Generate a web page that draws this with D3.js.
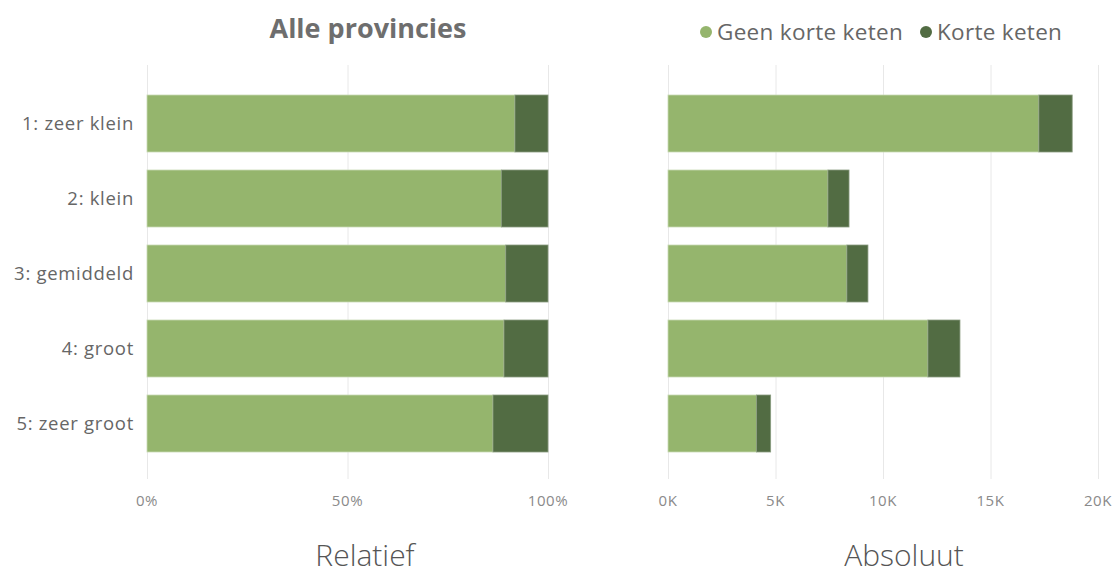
<!DOCTYPE html>
<html lang="nl">
<head>
  <meta charset="UTF-8">
  <title>Alle provincies: korte keten</title>
  <script src="https://d3js.org/d3.v7.min.js"></script>
  <style>
    body {
      margin: 0;
      background: #fff;
      font-family: "Open Sans", "Segoe UI", sans-serif;
    }
    svg { display: block; }
  </style>
</head>
<body>
  <svg id="chart" width="1117" height="575"></svg>
  <script>
    // Data
    const categories = ["1: zeer klein", "2: klein", "3: gemiddeld", "4: groot", "5: zeer groot"];
    const geenKorteKeten = [17250, 7440, 8320, 12090, 4120];
    const korteKeten = [1550, 980, 980, 1490, 655];
    const seriesNames = ["Geen korte keten", "Korte keten"];
    const relTicks = [0, 0.5, 1];
    const absTicks = [0, 5000, 10000, 15000, 20000];

    const colors = ["#95b56d", "#526c43"];

    const svg = d3.select("#chart");

    // Shared band scale for the rows
    const y = d3.scaleBand()
      .domain(categories)
      .range([86, 461])
      .paddingInner(0.24)
      .paddingOuter(0.12);

    const gridTop = 65, gridBottom = 479;

    // Build rows: absolute and relative
    const rows = categories.map((c, i) => {
      const total = geenKorteKeten[i] + korteKeten[i];
      return {
        cat: c,
        abs: [geenKorteKeten[i], korteKeten[i]],
        rel: [geenKorteKeten[i] / total, korteKeten[i] / total]
      };
    });

    function drawPanel(x, key, ticks, fmt) {
      const g = svg.append("g");

      // gridlines
      g.selectAll("line.grid")
        .data(ticks)
        .join("line")
        .attr("class", "grid")
        .attr("x1", d => x(d) + 0.5)
        .attr("x2", d => x(d) + 0.5)
        .attr("y1", gridTop)
        .attr("y2", gridBottom)
        .attr("stroke", "#e8e8e8")
        .attr("stroke-width", 1);

      // tick labels
      g.selectAll("text.tick")
        .data(ticks)
        .join("text")
        .attr("class", "tick")
        .attr("x", d => x(d))
        .attr("y", 506)
        .attr("text-anchor", "middle")
        .attr("fill", "#8a8a8a")
        .attr("font-size", 15)
        .attr("letter-spacing", 0.6)
        .text(fmt);

      // stacked bars
      rows.forEach(r => {
        let start = 0;
        r[key].forEach((v, j) => {
          g.append("rect")
            .attr("x", x(start))
            .attr("y", y(r.cat))
            .attr("width", x(start + v) - x(start))
            .attr("height", y.bandwidth())
            .attr("fill", colors[j])
            .attr("stroke", j === 0 ? "#c9dab5" : "#8a9c80")
            .attr("stroke-width", 0.8);
          start += v;
        });
      });
    }

    const xRel = d3.scaleLinear().domain([0, 1]).range([147, 548]);
    const xAbs = d3.scaleLinear().domain([0, 20000]).range([668, 1098]);

    drawPanel(xRel, "rel", relTicks, d3.format(".0%"));
    drawPanel(xAbs, "abs", absTicks, d => (d / 1000) + "K");

    // category labels
    svg.append("g")
      .selectAll("text")
      .data(categories)
      .join("text")
      .attr("x", 134)
      .attr("y", d => y(d) + y.bandwidth() / 2)
      .attr("dy", "0.35em")
      .attr("text-anchor", "end")
      .attr("fill", "#666")
      .attr("font-size", 18.5)
      .attr("letter-spacing", 0.7)
      .text(d => d);

    // title
    svg.append("text")
      .attr("x", 368)
      .attr("y", 38)
      .attr("text-anchor", "middle")
      .attr("fill", "#6e6e6e")
      .attr("font-size", 27)
      .attr("font-weight", "bold")
      .text("Alle provincies");

    // legend
    const legendX = [706, 926];
    seriesNames.forEach((s, i) => {
      svg.append("circle")
        .attr("cx", legendX[i])
        .attr("cy", 32)
        .attr("r", 6)
        .attr("fill", colors[i]);
      svg.append("text")
        .attr("x", legendX[i] + 11)
        .attr("y", 32)
        .attr("dy", "0.35em")
        .attr("fill", "#666")
        .attr("font-size", 22.5)
        .attr("letter-spacing", 0.3)
        .text(s);
    });

    // axis titles
    svg.append("text")
      .attr("x", 365)
      .attr("y", 566)
      .attr("text-anchor", "middle")
      .attr("fill", "#555")
      .attr("font-size", 30)
      .attr("font-weight", 300)
      .text("Relatief");

    svg.append("text")
      .attr("x", 904)
      .attr("y", 566)
      .attr("text-anchor", "middle")
      .attr("fill", "#555")
      .attr("font-size", 30)
      .attr("font-weight", 300)
      .text("Absoluut");
  </script>
</body>
</html>
